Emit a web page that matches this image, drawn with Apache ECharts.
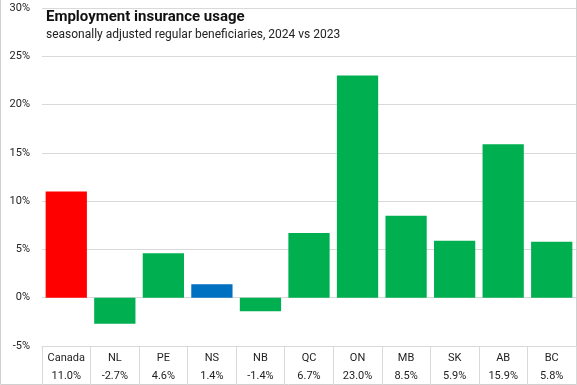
<!DOCTYPE html>
<html><head><meta charset="utf-8">
<script src="https://cdn.jsdelivr.net/npm/echarts@6/dist/echarts.min.js"></script>
<style>html,body{margin:0;padding:0;background:#fff}#c{width:577px;height:385px}</style>
</head><body><div id="c"></div>
<script>
var categories = ['Canada','NL','PE','NS','NB','QC','ON','MB','SK','AB','BC'];
var values = [11.0,-2.7,4.6,1.4,-1.4,6.7,23.0,8.5,5.9,15.9,5.8];
var barColors = ['#ff0000','#00b050','#00b050','#0070c0','#00b050','#00b050','#00b050','#00b050','#00b050','#00b050','#00b050'];
var chart = echarts.init(document.getElementById('c'));
chart.setOption({
  animation:false,
  textStyle:{fontFamily:'Roboto'},
  title:{text:'Employment insurance usage',subtext:'seasonally adjusted regular beneficiaries, 2024 vs 2023',
    left:41,top:5,itemGap:4,
    textStyle:{fontSize:15,fontWeight:'bold',color:'#111',fontFamily:'Roboto'},
    subtextStyle:{fontSize:12,color:'#222',fontFamily:'Roboto'}},
  grid:{left:42,right:1,top:8,bottom:39,containLabel:false},
  xAxis:{type:'category',data:categories,boundaryGap:true,
    axisLine:{show:true,onZero:false,lineStyle:{color:'#d9d9d9'}},
    axisTick:{show:true,interval:0,length:39,inside:false,lineStyle:{color:'#d9d9d9'}},
    axisLabel:{interval:0,margin:3,color:'#222',fontSize:11,lineHeight:18,
      formatter:function(v,i){return v+'\n'+values[i].toFixed(1)+'%';}}},
  yAxis:{type:'value',min:-5,max:30,interval:5,
    axisLabel:{formatter:'{value}%',color:'#222',fontSize:11,margin:12},
    splitLine:{lineStyle:{color:'#d9d9d9'}},axisLine:{show:false},axisTick:{show:false}},
  series:[{type:'bar',barCategoryGap:'15%',
    data:values.map(function(v,i){return {value:v,itemStyle:{color:barColors[i]}};})}],
  graphic:[{type:'rect',shape:{x:0.5,y:-1,width:576,height:385.5},style:{fill:'none',stroke:'#d0d0d0',lineWidth:1},silent:true}]
});
</script></body></html>
